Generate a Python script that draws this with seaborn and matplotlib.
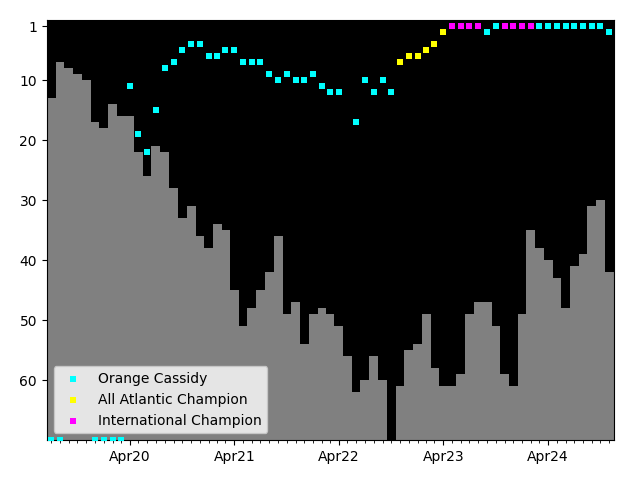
import numpy as np
import pandas as pd
import matplotlib
matplotlib.use("Agg")
import matplotlib.pyplot as plt
import matplotlib.dates as mdates
import seaborn as sns

N = None
nan = np.nan

# monthly ranking, first month = July 2019
months = pd.date_range("2019-07-01", periods=65, freq="MS")

bar_rank = [13, 7, 8, 9, 10, 17, 18, 14, 16, 16, 22, 26, 21, 22, 28,
            33, 31, 36, 38, 34, 35, 45, 51, 48, 45, 42, 36, 49, 47, 54,
            49, 48, 49, 51, 56, 62, 60, 56, 60, nan, 61, 55, 54, 49, 58,
            61, 61, 59, 49, 47, 47, 51, 59, 61, 49, 35, 38, 40, 43, 48,
            41, 39, 31, 30, 42]

# 70 = unranked (drawn on the floor)
cassidy_rank = [70, 70, N, N, N, 70, 70, 70, 70,
                11, 19, 22, 15, 8, 7, 5, 4, 4, 6, 6, 5, 5,
                7, 7, 7, 9, 10, 9, 10, 10, 9, 11, 12, 12,
                N, 17, 10, 12, 10, 12,
                N, N, N, N, N, N, N, N, N, N,
                2, 1, N, N, N, N,
                1, 1, 1, 1, 1, 1, 1, 1, 2]

all_atlantic_rank = [N] * 40 + [7, 6, 6, 5, 4, 2] + [N] * 19
international_rank = [N] * 46 + [1, 1, 1, 1, N, N, 1, 1, 1, 1] + [N] * 9

series = [
    ("Orange Cassidy", cassidy_rank, "#00ffff"),
    ("All Atlantic Champion", all_atlantic_rank, "#ffff00"),
    ("International Champion", international_rank, "#ff00ff"),
]

FLOOR = 70


def main():
    fig, ax = plt.subplots(figsize=(6.4, 4.8), dpi=100)
    fig.subplots_adjust(left=0.073, right=0.959, top=0.958, bottom=0.083)
    ax.set_facecolor("black")

    bars = pd.DataFrame({"month": months, "rank": bar_rank}).dropna()
    ax.bar(bars["month"], FLOOR - bars["rank"], bottom=bars["rank"],
           width=31, color="gray", linewidth=0, zorder=1)

    for label, ranks, color in series:
        df = pd.DataFrame({"month": months, "rank": ranks}).dropna()
        sns.scatterplot(data=df, x="month", y="rank", ax=ax, marker="s",
                        s=20, color=color, linewidth=0, label=label,
                        zorder=3)

    ax.set_xlim(months[0] - pd.Timedelta(days=15.5),
                months[-1] + pd.Timedelta(days=15.5))
    ax.set_ylim(FLOOR, 0)
    ax.set_yticks([1, 10, 20, 30, 40, 50, 60])
    ax.xaxis.set_major_locator(mdates.MonthLocator(bymonth=4))
    ax.xaxis.set_major_formatter(mdates.DateFormatter("%b%y"))
    ax.xaxis.set_minor_locator(mdates.MonthLocator())
    ax.set_xlabel("")
    ax.set_ylabel("")

    ax.legend(loc="lower left")

    plt.savefig("out.png", dpi=100)


if __name__ == "__main__":
    main()
